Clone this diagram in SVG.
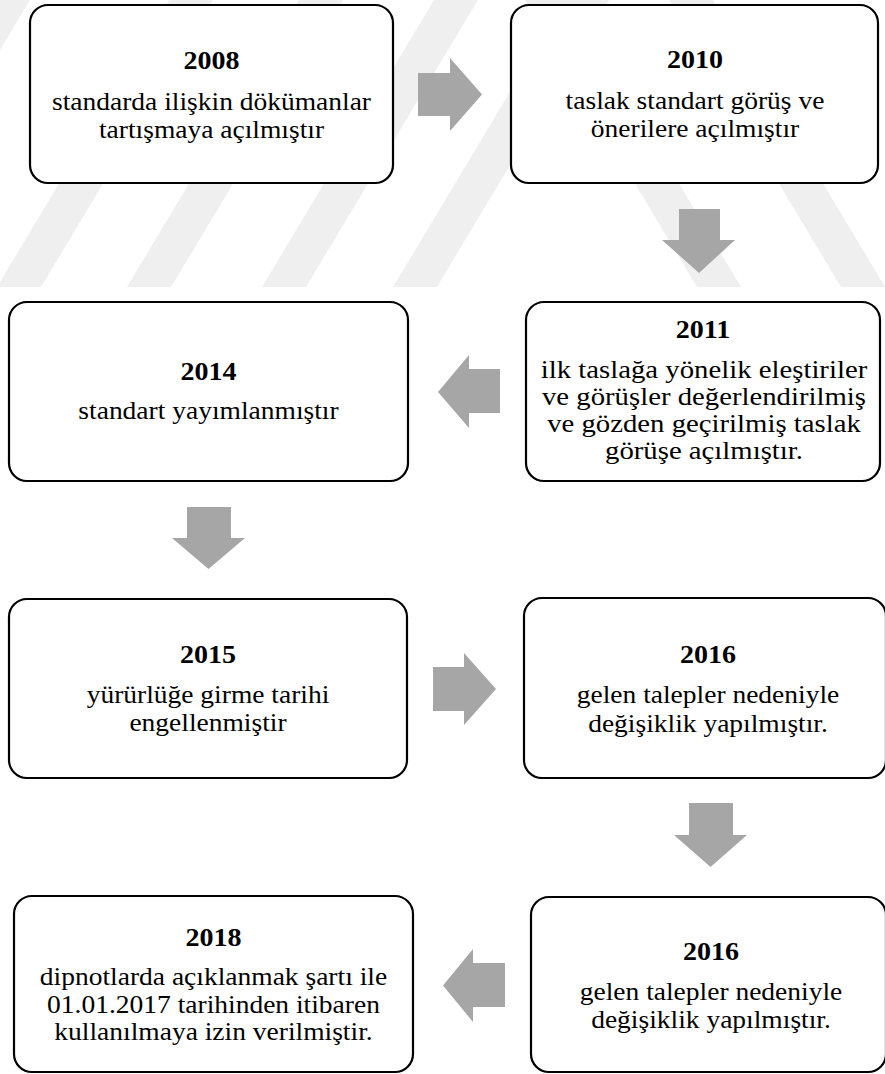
<svg xmlns="http://www.w3.org/2000/svg" width="885" height="1074" viewBox="0 0 885 1074">
<style>
.wm{fill:#efefef;}
.box{fill:#ffffff;stroke:#000000;stroke-width:2.2;}
.arr{fill:#a6a6a6;}
.t{font-size:25px;fill:#000000;text-anchor:middle;}
.yr{font-size:25.5px;font-weight:bold;}
</style>
<rect x="0" y="0" width="885" height="1074" fill="#ffffff"/>
<g id="watermark">
<polygon class="wm" points="0,0 30,0 0,50"/>
<polygon class="wm" points="-3,287 41,287 213,0 169,0"/>
<polygon class="wm" points="127,287 171,287 343,0 299,0"/>
<polygon class="wm" points="262,287 306,287 478,0 434,0"/>
<polygon class="wm" points="393,287 437,287 609,0 565,0"/>
<polygon class="wm" points="697,287 741,287 569,0 525,0"/>
<polygon class="wm" points="841,287 885,287 713,0 669,0"/>
</g>
<g id="connectors">
<polygon class="arr" points="418,73 450,73 450,58 482,94.5 450,131 450,116 418,116"/>
<polygon class="arr" points="679,209 720,209 720,240 735,240 699,273 662,240 679,240"/>
<polygon class="arr" points="500,369 469,369 469,355 438,392 469,428 469,413 500,413"/>
<polygon class="arr" points="187,507 231,507 231,538 245,538 208.5,569 172,538 187,538"/>
<polygon class="arr" points="433,667 464,667 464,653 496,689 464,725 464,711 433,711"/>
<polygon class="arr" points="689,803 733,803 733,835 747,835 710.5,867 674,835 689,835"/>
<polygon class="arr" points="505,963 473,963 473,949 443,985.5 473,1022 473,1007 505,1007"/>
</g>
<g font-family="'Liberation Serif', Tinos, 'Times New Roman', 'DejaVu Serif', serif">
<g id="n2008">
<rect class="box" x="30" y="5" width="363" height="178" rx="18"/>
<g transform="translate(211.5 0) scale(1.1 1)">
<text class="t yr" x="0" y="69">2008</text>
<text class="t" x="0" y="110">standarda ilişkin dökümanlar</text>
<text class="t" x="0" y="138">tartışmaya açılmıştır</text>
</g>
</g>
<g id="n2010">
<rect class="box" x="511" y="5" width="367" height="178" rx="18"/>
<g transform="translate(695 0) scale(1.1 1)">
<text class="t yr" x="0" y="68">2010</text>
<text class="t" x="0" y="109">taslak standart görüş ve</text>
<text class="t" x="0" y="137">önerilere açılmıştır</text>
</g>
</g>
<g id="n2011">
<rect class="box" x="526" y="302" width="354" height="179" rx="18"/>
<g transform="translate(703 0) scale(1.1 1)">
<text class="t yr" x="0" y="338">2011</text>
</g>
<g transform="translate(704 0) scale(1.15 1)">
<text class="t" x="0" y="378">ilk taslağa yönelik eleştiriler</text>
<text class="t" x="0" y="405">ve görüşler değerlendirilmiş</text>
<text class="t" x="0" y="432">ve gözden geçirilmiş taslak</text>
<text class="t" x="0" y="459">görüşe açılmıştır.</text>
</g>
</g>
<g id="n2014">
<rect class="box" x="9" y="302" width="399" height="179" rx="18"/>
<g transform="translate(208.5 0) scale(1.1 1)">
<text class="t yr" x="0" y="380">2014</text>
<text class="t" x="0" y="419">standart yayımlanmıştır</text>
</g>
</g>
<g id="n2015">
<rect class="box" x="9" y="599" width="398" height="179" rx="18"/>
<g transform="translate(208 0) scale(1.1 1)">
<text class="t yr" x="0" y="663">2015</text>
<text class="t" x="0" y="703">yürürlüğe girme tarihi</text>
<text class="t" x="0" y="731">engellenmiştir</text>
</g>
</g>
<g id="n2016a">
<rect class="box" x="524" y="598" width="362" height="180" rx="18"/>
<g transform="translate(708 0) scale(1.1 1)">
<text class="t yr" x="0" y="663">2016</text>
<text class="t" x="0" y="703">gelen talepler nedeniyle</text>
<text class="t" x="0" y="732">değişiklik yapılmıştır.</text>
</g>
</g>
<g id="n2016b">
<rect class="box" x="531" y="897" width="355" height="175" rx="18"/>
<g transform="translate(711 0) scale(1.1 1)">
<text class="t yr" x="0" y="960">2016</text>
<text class="t" x="0" y="1000">gelen talepler nedeniyle</text>
<text class="t" x="0" y="1028">değişiklik yapılmıştır.</text>
</g>
</g>
<g id="n2018">
<rect class="box" x="14" y="896" width="399" height="176" rx="18"/>
<g transform="translate(213.5 0) scale(1.1 1)">
<text class="t yr" x="0" y="946">2018</text>
<text class="t" x="0" y="985">dipnotlarda açıklanmak şartı ile</text>
<text class="t" x="0" y="1013">01.01.2017 tarihinden itibaren</text>
<text class="t" x="0" y="1040">kullanılmaya izin verilmiştir.</text>
</g>
</g>
</g>
</svg>
